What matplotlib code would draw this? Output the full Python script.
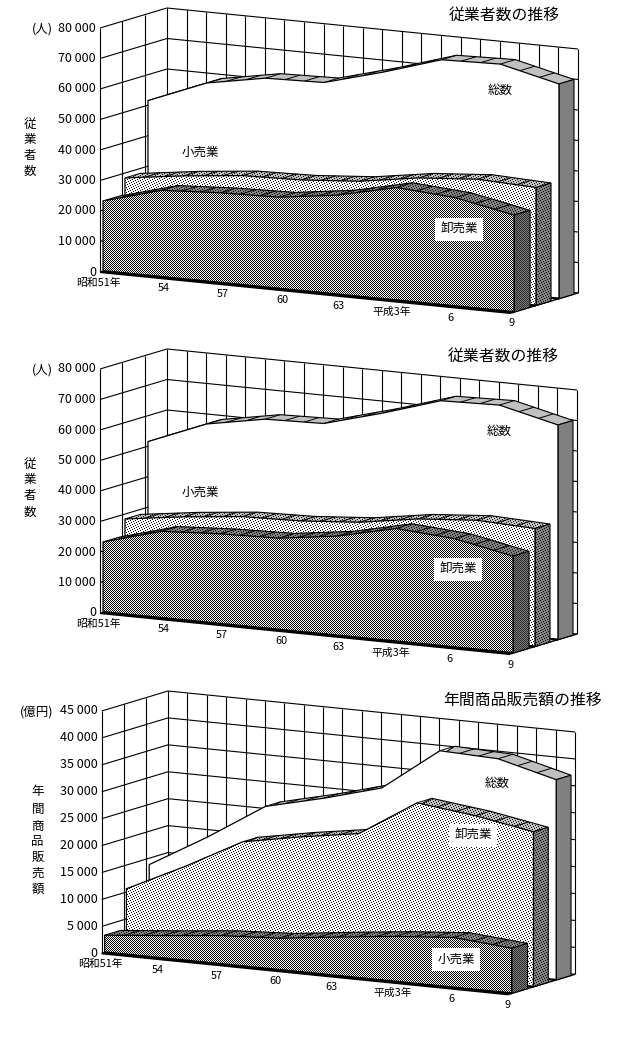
import itertools

import matplotlib
matplotlib.use("Agg")
import matplotlib.pyplot as plt
import numpy as np
from matplotlib.patches import PathPatch, Polygon
from matplotlib.path import Path

plt.rcParams["font.family"] = ["Noto Sans CJK JP", "DejaVu Sans"]

W, H = 627, 1040

# years since 昭和51
years = [0, 3, 6, 9, 12, 15, 18, 21]
tick_labels = ["昭和51年", "54", "57", "60", "63", "平成3年", "6", "9"]

# 従業者数 (人)
emp_front = [23000, 28400, 29500, 30000, 32600, 37000, 35600, 31800]
emp_mid = [28400, 31000, 33000, 33500, 35000, 38000, 39500, 38700]
emp_total = [51500, 59200, 62700, 63200, 68500, 74500, 75000, 70400]
emp_ticks = [0, 10000, 20000, 30000, 40000, 50000, 60000, 70000, 80000]

# 年間商品販売額 (億円)
sales_front = [3200, 4200, 5300, 5900, 7200, 8400, 9300, 8400]
sales_mid = [10600, 15800, 21500, 23500, 25200, 32000, 30700, 28800]
sales_total = [13800, 20000, 26800, 29400, 32400, 40400, 40000, 37200]
sales_ticks = [0, 5000, 10000, 15000, 20000, 25000, 30000, 35000, 40000, 45000]

DEPTHS = [(0.716, 0.94), (0.373, 0.597), (0.045, 0.284)]  # back to front

# --- 1-bit style fill patterns, one pixel per cell ---
px, py = np.meshgrid(np.arange(W), np.arange(H))
checker = (px + py) % 2 == 0
dots = (px + 2 * py) % 5 == 0


def pattern(bg, mask=None, fg=0):
    img = np.full((H, W), bg, dtype=np.uint8)
    if mask is not None:
        img[mask] = fg
    return img


FACE = {
    "total": pattern(255),
    "mid": pattern(255, dots),
    "front": pattern(255, checker),
}
SIDE = {
    "total": pattern(128),
    "mid": pattern(128, dots),
    "front": pattern(128, checker, 40),
}
TOP = {
    "total": pattern(192),
    "mid": pattern(192, dots),
    "front": pattern(128, dots),
}

fig = plt.figure(figsize=(W / 100, H / 100), dpi=100)
ax = fig.add_axes([0, 0, 1, 1])
z = itertools.count(1)


def fill(verts, img):
    """Paint an image pattern clipped to one or more polygons"""
    codes, pts = [], []
    for v in verts:
        pts += list(v) + [v[0]]
        codes += [Path.MOVETO] + [Path.LINETO] * (len(v) - 1) + [Path.CLOSEPOLY]
    patch = PathPatch(Path(pts, codes), fc="none", ec="none", transform=ax.transData)
    ax.add_patch(patch)
    im = ax.imshow(img, cmap="gray", vmin=0, vmax=255, extent=(0, W, H, 0),
                   interpolation="nearest", aspect="auto", zorder=next(z))
    im.set_clip_path(patch)


def draw_panel(geo, series, ticks, title, title_xy, unit, unit_x, ylabel, ylabel_x, ylabel_ys,
               labels, nudges):
    ox, oy, wx, wy, dx, dy, h = geo
    vmax = ticks[-1]

    def proj(t, d, v):
        t, v = np.asarray(t, float), np.asarray(v, float)
        return ox + t / 21 * wx + d * dx, oy + t / 21 * wy + d * dy - v / vmax * h

    def line(xs, ys, lw=0.8, color="black"):
        ax.plot(xs, ys, color=color, lw=lw, solid_capstyle="butt", zorder=next(z))

    # --- Walls ---
    for v in ticks:
        xs, ys = proj([0, 0, 21], 0, v)
        bx, by = proj([0, 21], 1, v)
        line([xs[0], bx[0], bx[1]], [ys[0], by[0], by[1]])
    for d in [0, 1 / 3, 2 / 3, 1]:
        xs, ys = proj([0, 0], d, [0, vmax])
        line(xs, ys)
    for t in range(1, 22):
        xs, ys = proj([t, t], 1, [0, vmax])
        line(xs, ys)
    xs0, ys0 = proj([0, 21], 0, 0)
    xs1, ys1 = proj([0, 21], 1, 0)
    line([xs1[1], xs0[1]], [ys1[1], ys0[1]], lw=1.0)
    line(xs0, ys0, lw=1.6)

    # --- Series, back to front ---
    for (name, values), (d0, d1) in zip(series, DEPTHS):
        fx, fy = proj(years, d0, values)
        bx, by = proj(years, d1, values)
        quads = [[(fx[i], fy[i]), (fx[i + 1], fy[i + 1]), (bx[i + 1], by[i + 1]), (bx[i], by[i])]
                 for i in range(len(years) - 1)]
        fill(quads, TOP[name])
        line(bx, by)
        for t in range(22):
            v = np.interp(t, years, values)
            cx2, cy2 = proj(t, d1, v)
            cx1, cy1 = proj(t, d0, v)
            line([cx1, cx2], [cy1, cy2], lw=0.7)

        sx0, sy0 = proj(21, d0, 0)
        sx1, sy1 = proj(21, d1, 0)
        side = [(fx[-1], fy[-1]), (bx[-1], by[-1]), (sx1, sy1), (sx0, sy0)]
        fill([side], SIDE[name])
        ax.add_patch(Polygon(side, fc="none", ec="black", lw=0.8, zorder=next(z)))

        gx, gy = proj([21, 0], d0, 0)
        face = list(zip(fx, fy)) + [(gx[0], gy[0]), (gx[1], gy[1])]
        fill([face], FACE[name])
        ax.add_patch(Polygon(face, fc="none", ec="black", lw=0.9, zorder=next(z)))
        line(gx, gy, lw=1.6)

    # --- Text ---
    top = 1000
    for v in ticks:
        s = f"{v:,}".replace(",", " ")
        _, y = proj(0, 0, v)
        ax.text(ox - 4, y, s, ha="right", va="center", fontsize=9, zorder=top)
    _, y = proj(0, 0, vmax)
    ax.text(unit_x, y + 1, unit, ha="right", va="center", fontsize=9, zorder=top)
    for ch, y in zip(ylabel, ylabel_ys):
        ax.text(ylabel_x, y, ch, ha="center", va="center", fontsize=9, zorder=top)
    for t, s, nudge in zip(years, tick_labels, nudges):
        x, y = proj(t, 0, 0)
        ax.text(x + nudge, y + 10.5, s, ha="center", va="center", fontsize=7.8, zorder=top)
    ax.text(*title_xy, title, ha="center", va="center", fontsize=11.4, zorder=top)
    for s, x, y, boxed in labels:
        bbox = dict(fc="white", ec="none", boxstyle="square,pad=0.4") if boxed else None
        ax.text(x, y, s, ha="center", va="center", fontsize=9, bbox=bbox, zorder=top)


emp_series = [("total", emp_total), ("mid", emp_mid), ("front", emp_front)]
sales_series = [("total", sales_total), ("mid", sales_mid), ("front", sales_front)]

draw_panel((100, 272, 411, 41, 67, -20, 244), emp_series, emp_ticks,
           "従業者数の推移", (504, 15.7), "(人)", 53, "従業者数", 30, [124, 139, 155, 171],
           [("小売業", 200, 152, False), ("総数", 500, 90, False), ("卸売業", 459, 229, True)],
           [-2, 5, 5, 6, 4, -2, -2, 1])

draw_panel((100, 613, 410, 41, 67, -20, 244), emp_series, emp_ticks,
           "従業者数の推移", (503, 356.7), "(人)", 53, "従業者数", 30, [464, 480, 496, 512],
           [("小売業", 200, 492.7, False), ("総数", 499, 431.7, False), ("卸売業", 458, 569.7, True)],
           [-2, 5, 5, 6, 4, -2, -2, 1])

draw_panel((101.7, 953.3, 407, 41, 66.3, -20, 242.3), sales_series, sales_ticks,
           "年間商品販売額の推移", (522.7, 700.3), "(億円)", 53, "年間商品販売額", 37.7,
           [792, 809, 826, 842, 857, 873, 889],
           [("総数", 496.7, 783, False), ("卸売業", 473, 835, True), ("小売業", 456, 959, True)],
           [-1.5, -1.7, -0.7, -0.7, -3, 0, 1.3, -0.7])

ax.set_xlim(0, W)
ax.set_ylim(H, 0)
ax.axis("off")
fig.savefig("out.png", dpi=100)
